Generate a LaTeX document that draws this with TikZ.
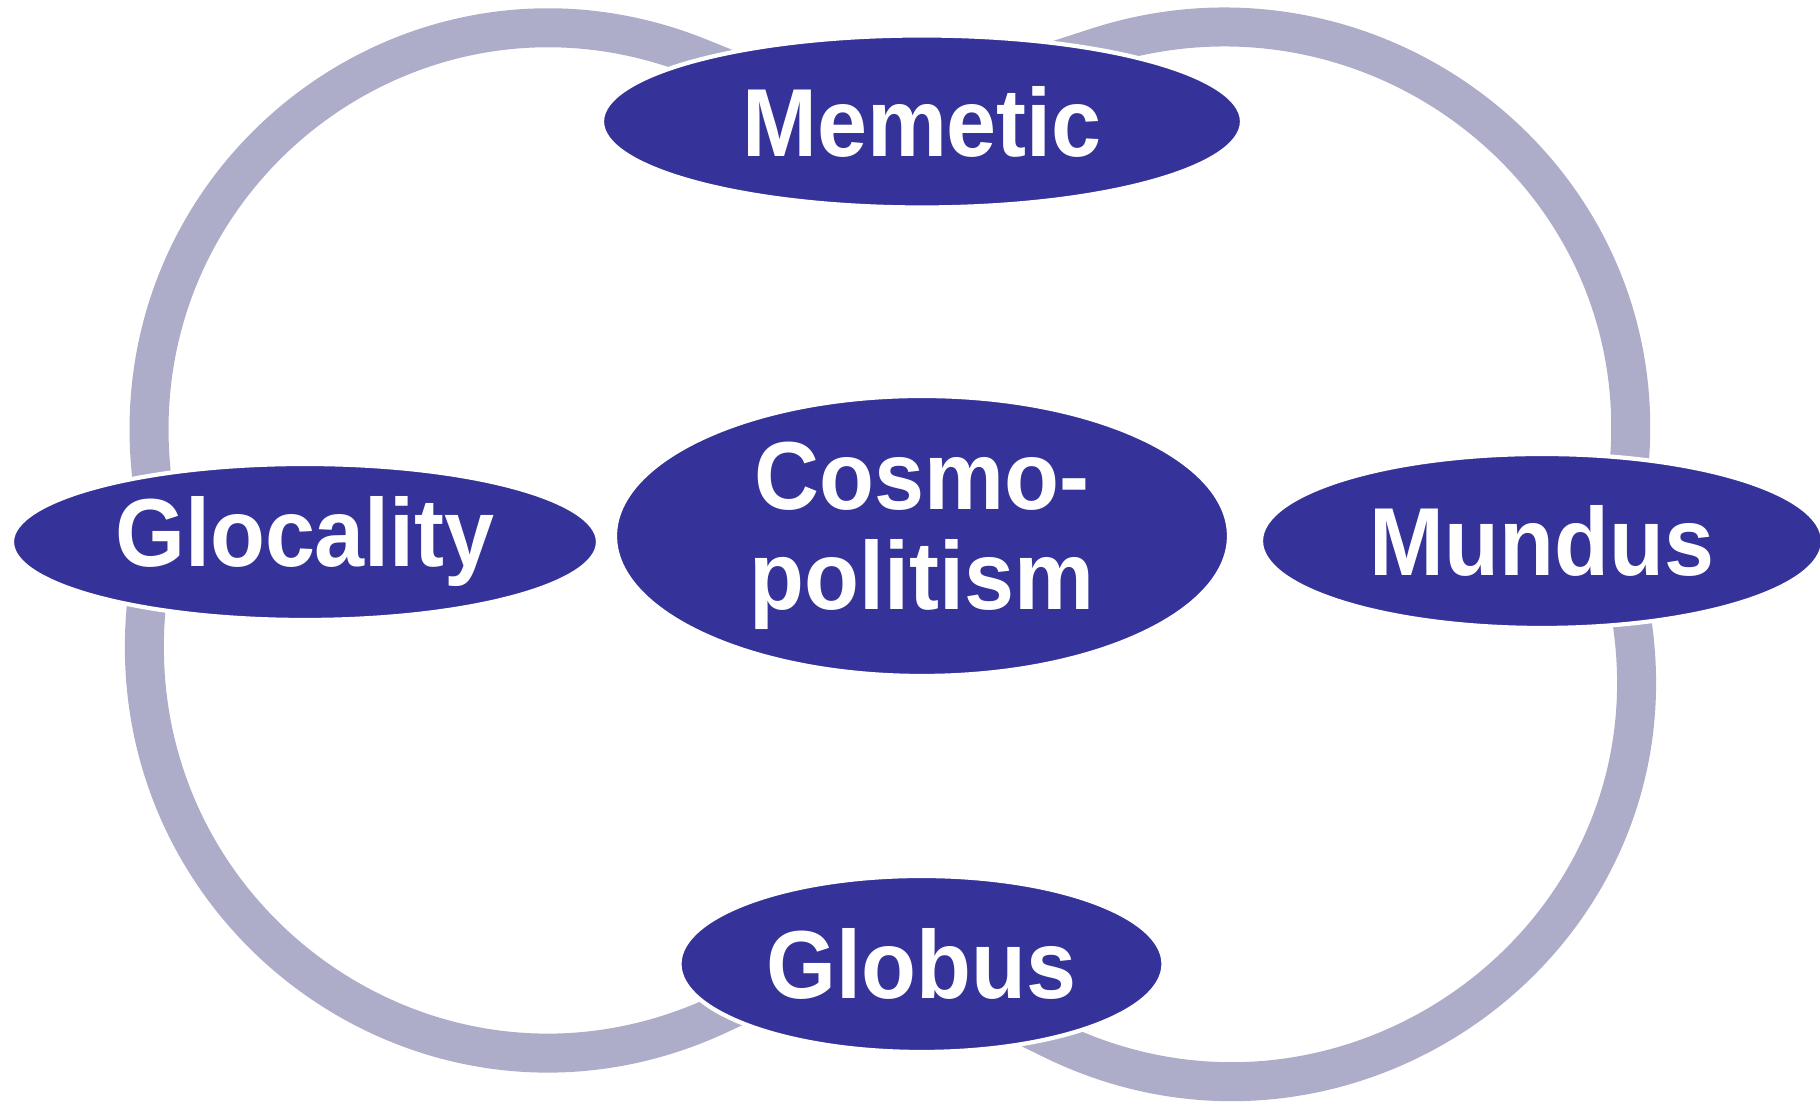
\documentclass[tikz,border=0pt]{standalone}
\usepackage{fontspec}
\setmainfont{Liberation Sans}[FakeStretch=0.93]
\usetikzlibrary{shapes.geometric, backgrounds}
\definecolor{ovalblue}{RGB}{53,51,153}
\definecolor{ringgrey}{RGB}{173,173,202}

\begin{document}
\begin{tikzpicture}[
    oval/.style={ellipse, fill=ovalblue, draw=white, line width=1.2pt, inner sep=0pt,
      text=white, font=\fontsize{27.5}{28.5}\selectfont\bfseries},
    ring/.style={ringgrey, line width=0.39cm}]
  \useasboundingbox (0,0) rectangle (18.2,11.03);
  % the five ovals
  \node[oval, minimum width=6.40cm, minimum height=1.72cm] (memetic) at (9.22,9.815) {Memetic};
  \node[oval, minimum width=6.14cm, minimum height=2.80cm, align=center] (cosmo) at (9.22,5.67) {Cosmo-\\politism};
  \node[oval, minimum width=5.86cm, minimum height=1.56cm] (glocality) at (3.05,5.61) {Glocality};
  \node[oval, minimum width=5.62cm, minimum height=1.74cm] (mundus) at (15.42,5.62) {Mundus};
  \node[oval, minimum width=4.84cm, minimum height=1.76cm] (globus) at (9.215,1.39) {Globus};
  % the rings behind them, each tucked a little into both ovals
  \begin{scope}[on background layer]
    \draw[ring] ([shift={(276:0.4)}]glocality.156) -- (glocality.156)
      to[out=96, in=158, looseness=1.13] (memetic.164) -- ++(-22:0.4);
    \draw[ring] ([shift={(198:0.4)}]memetic.23) -- (memetic.23)
      to[out=18, in=86, looseness=1.09] (mundus.44) -- ++(266:0.4);
    \draw[ring] ([shift={(85:0.4)}]glocality.203) -- (glocality.203)
      to[out=-95, in=205, looseness=1.14] (globus.194) -- ++(25:0.4);
    \draw[ring] ([shift={(154:0.4)}]globus.330) -- (globus.330)
      to[out=-26, in=-82, looseness=1.16] (mundus.317) -- ++(98:0.4);
  \end{scope}
\end{tikzpicture}
\end{document}
